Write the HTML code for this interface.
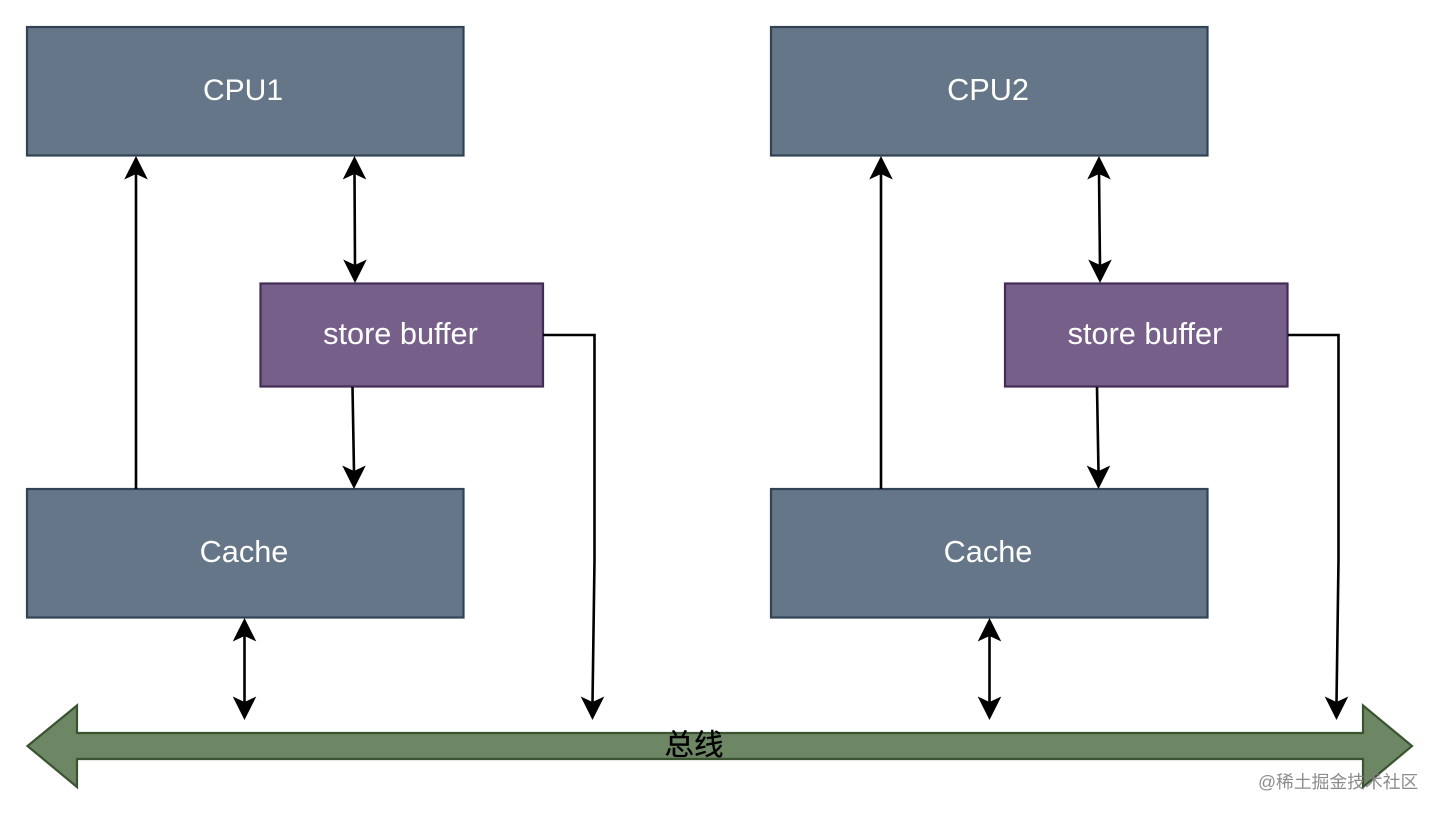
<!DOCTYPE html>
<html><head><meta charset="utf-8"><style>
html,body{margin:0;padding:0;background:#fff;width:1440px;height:814px;overflow:hidden}
svg{display:block}
text{font-family:"Liberation Sans","Noto Sans CJK SC",sans-serif}
</style></head><body>
<svg width="1440" height="814" viewBox="0 0 1440 814" xmlns="http://www.w3.org/2000/svg">
<defs>
<g id="h"><path d="M0 0L11.800 23.500L0 18L-11.800 23.500Z" fill="#000"/></g>
</defs>
<rect width="1440" height="814" fill="#fff"/>

<g fill="#647687" stroke="#314354" stroke-width="2.200">
<rect x="27" y="27" width="436.500" height="128.500"/>
<rect x="771" y="27" width="436.500" height="128.500"/>
<rect x="27" y="489" width="436.500" height="128.500"/>
<rect x="771" y="489" width="436.500" height="128.500"/>
</g>
<g fill="#76608a" stroke="#432d57" stroke-width="2.200">
<rect x="260.500" y="283.500" width="282.500" height="103"/>
<rect x="1005" y="283.500" width="282.500" height="103"/>
</g>

<path d="M27.500 746L77 705.500V733H1363V705.500L1412 746L1363 787V759H77V787Z" fill="#6d8764" stroke="#3a5431" stroke-width="2.200"/>

<g fill="none" stroke="#000" stroke-width="2.600">
<path d="M136 489V172"/>
<path d="M354.500 172L355 267"/>
<path d="M352.500 387L354 472"/>
<path d="M244.500 634V703"/>
<path d="M543 335H594.500V560L592.500 703"/>
<path d="M881 489V172"/>
<path d="M1099 172L1100 267"/>
<path d="M1097 387L1098.500 472"/>
<path d="M989.500 634V703"/>
<path d="M1288 335H1338.500V560L1336.500 703"/>
</g>

<g>
<use href="#h" transform="translate(136 156)"/>
<use href="#h" transform="translate(354.500 156)"/>
<use href="#h" transform="translate(355 283) rotate(180)"/>
<use href="#h" transform="translate(354 489) rotate(180)"/>
<use href="#h" transform="translate(244.500 618)"/>
<use href="#h" transform="translate(244.500 720) rotate(180)"/>
<use href="#h" transform="translate(592.500 720) rotate(180)"/>
<use href="#h" transform="translate(881 156)"/>
<use href="#h" transform="translate(1099 156)"/>
<use href="#h" transform="translate(1100 283) rotate(180)"/>
<use href="#h" transform="translate(1098.500 489) rotate(180)"/>
<use href="#h" transform="translate(989.500 618)"/>
<use href="#h" transform="translate(989.500 720) rotate(180)"/>
<use href="#h" transform="translate(1336.500 720) rotate(180)"/>
</g>

<g fill="#fff" font-size="30.700" text-anchor="middle">
<text x="243" y="100" font-size="30">CPU1</text>
<text x="988" y="100">CPU2</text>
<text x="400.500" y="344">store buffer</text>
<text x="1145" y="344">store buffer</text>
<text x="244" y="562">Cache</text>
<text x="988" y="562">Cache</text>
</g>
<text x="694" y="755" font-size="29.500" text-anchor="middle" fill="#000" stroke="#000" stroke-width="0.300">总线</text>
<text x="1258" y="788" font-size="17.800" fill="#808080" fill-opacity="0.9">@稀土掘金技术社区</text>
</svg>
</body></html>
